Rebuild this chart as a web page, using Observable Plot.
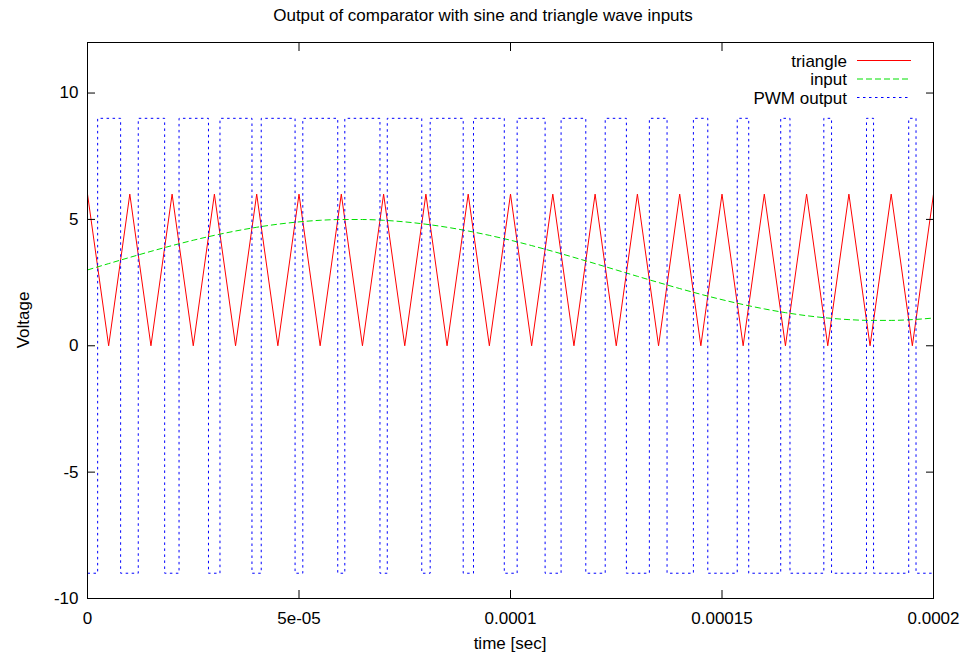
<!DOCTYPE html>
<html><head><meta charset="utf-8">
<script src="https://cdn.jsdelivr.net/npm/d3@7"></script>
<script src="https://cdn.jsdelivr.net/npm/@observablehq/plot@0.6"></script>
<style>html,body{margin:0;padding:0;background:#fff;} svg{display:block}</style>
</head><body><div id="chart"></div>
<script>
// ---- data ----
const titleText = "Output of comparator with sine and triangle wave inputs";
const xLabelText = "time [sec]";
const yLabelText = "Voltage";
const legendLabels = ["triangle", "input", "PWM output"];

const xTicks = [0, 5e-5, 1e-4, 1.5e-4, 2e-4];
const xTickLabels = ["0", "5e-05", "0.0001", "0.00015", "0.0002"];
const yTicks = [-10, -5, 0, 5, 10];
const yTickLabels = ["-10", "-5", "0", "5", "10"];

const triTime = [0e-6, 5e-6, 10e-6, 15e-6, 20e-6, 25e-6, 30e-6, 35e-6, 40e-6, 45e-6,
  50e-6, 55e-6, 60e-6, 65e-6, 70e-6, 75e-6, 80e-6, 85e-6, 90e-6, 95e-6,
  100e-6, 105e-6, 110e-6, 115e-6, 120e-6, 125e-6, 130e-6, 135e-6, 140e-6, 145e-6,
  150e-6, 155e-6, 160e-6, 165e-6, 170e-6, 175e-6, 180e-6, 185e-6, 190e-6, 195e-6, 200e-6];
const triVolt = [6, 0, 6, 0, 6, 0, 6, 0, 6, 0,
  6, 0, 6, 0, 6, 0, 6, 0, 6, 0,
  6, 0, 6, 0, 6, 0, 6, 0, 6, 0,
  6, 0, 6, 0, 6, 0, 6, 0, 6, 0, 6];

const inputTime = [0e-6, 5e-6, 10e-6, 15e-6, 20e-6, 25e-6, 30e-6, 35e-6, 40e-6, 45e-6,
  50e-6, 55e-6, 60e-6, 65e-6, 70e-6, 75e-6, 80e-6, 85e-6, 90e-6, 95e-6,
  100e-6, 105e-6, 110e-6, 115e-6, 120e-6, 125e-6, 130e-6, 135e-6, 140e-6, 145e-6,
  150e-6, 155e-6, 160e-6, 165e-6, 170e-6, 175e-6, 180e-6, 185e-6, 190e-6, 195e-6, 200e-6];
const inputVolt = [3.000, 3.251, 3.497, 3.736, 3.964, 4.176, 4.369, 4.541, 4.689, 4.810,
  4.902, 4.965, 4.996, 4.996, 4.965, 4.902, 4.810, 4.689, 4.541, 4.369,
  4.176, 3.964, 3.736, 3.497, 3.251, 3.000, 2.749, 2.503, 2.264, 2.036,
  1.824, 1.631, 1.459, 1.311, 1.190, 1.098, 1.035, 1.004, 1.004, 1.035, 1.098];

const pwmTime = [0, 2.40e-6, 7.83e-6, 12.00e-6, 18.24e-6, 21.64e-6, 28.60e-6, 31.32e-6, 38.88e-6, 41.07e-6,
  49.07e-6, 50.90e-6, 59.16e-6, 60.83e-6, 69.14e-6, 70.87e-6, 79.02e-6, 81.01e-6, 88.82e-6, 91.25e-6,
  98.53e-6, 101.57e-6, 108.18e-6, 111.96e-6, 117.80e-6, 122.39e-6, 127.40e-6, 132.83e-6, 137.01e-6, 143.24e-6,
  146.64e-6, 153.60e-6, 156.32e-6, 163.88e-6, 166.07e-6, 174.07e-6, 175.90e-6, 184.16e-6, 185.83e-6, 194.14e-6,
  195.87e-6, 200e-6];
const pwmVolt = [-9, 9, -9, 9, -9, 9, -9, 9, -9, 9,
  -9, 9, -9, 9, -9, 9, -9, 9, -9, 9,
  -9, 9, -9, 9, -9, 9, -9, 9, -9, 9,
  -9, 9, -9, 9, -9, 9, -9, 9, -9, 9,
  -9, -9];

// ---- layout / style ----
const W = 966, H = 655;
const mL = 87, mR = 33, mT = 42, mB = 57;
const FONT = "'Liberation Sans', Arial, Helvetica, sans-serif";
const FS = 17;
const RED = "#ff0000", GREEN = "#00e000", BLUE = "#0000ff";
const styles = [
  {stroke: RED, dash: null},
  {stroke: GREEN, dash: "6,3"},
  {stroke: BLUE, dash: "2.5,3.5"}
];
const TICK = 8;

const chart = Plot.plot({
  width: W, height: H,
  marginLeft: mL, marginRight: mR, marginTop: mT, marginBottom: mB,
  style: {fontFamily: FONT, fontSize: FS + "px", background: "white", color: "black"},
  x: {domain: [0, 2e-4]},
  y: {domain: [-10, 12]},
  marks: [
    Plot.line(triVolt, {x: triTime, y: triVolt, stroke: styles[0].stroke, strokeWidth: 1, strokeLinecap: "butt", strokeLinejoin: "miter"}),
    Plot.line(inputVolt, {x: inputTime, y: inputVolt, stroke: styles[1].stroke, strokeWidth: 1, strokeDasharray: styles[1].dash, strokeLinecap: "butt", curve: "monotone-x"}),
    Plot.line(pwmVolt, {x: pwmTime, y: pwmVolt, stroke: styles[2].stroke, strokeWidth: 1, strokeDasharray: styles[2].dash, strokeLinecap: "butt", curve: "step-after"}),
    Plot.frame({stroke: "black", strokeWidth: 1}),
    // inward ticks (all four sides)
    Plot.axisX(xTicks, {anchor: "bottom", tickSize: TICK, dy: -TICK, fill: "none", label: null, strokeWidth: 1}),
    Plot.axisX(xTicks, {anchor: "top", tickSize: TICK, dy: TICK, fill: "none", label: null, strokeWidth: 1}),
    Plot.axisY(yTicks, {anchor: "left", tickSize: TICK, dx: TICK, fill: "none", label: null, strokeWidth: 1}),
    Plot.axisY(yTicks, {anchor: "right", tickSize: TICK, dx: -TICK, fill: "none", label: null, strokeWidth: 1}),
    // tick labels
    Plot.axisX(xTicks, {anchor: "bottom", tickSize: 0, tickPadding: 13, label: null, fontSize: FS,
      tickFormat: d => xTickLabels[xTicks.indexOf(d)]}),
    Plot.axisY(yTicks, {anchor: "left", tickSize: 0, tickPadding: 9, label: null, fontSize: FS,
      tickFormat: d => yTickLabels[yTicks.indexOf(d)]})
  ]
});

document.getElementById("chart").appendChild(chart);

// title, axis labels, legend
const svg = d3.select(chart);
const g = svg.append("g").attr("font-family", FONT).attr("font-size", FS).attr("fill", "black");
g.append("text").attr("x", W / 2).attr("y", 20.5).attr("text-anchor", "middle").text(titleText);
g.append("text").attr("x", mL + (W - mL - mR) / 2).attr("y", 649).attr("text-anchor", "middle").text(xLabelText);
g.append("text").attr("transform", `translate(28.5,${mT + (H - mT - mB) / 2}) rotate(-90)`)
  .attr("text-anchor", "middle").text(yLabelText);

const legY = [60.5, 79, 97.5];
legendLabels.forEach((lab, i) => {
  g.append("text").attr("x", 847).attr("y", legY[i] + 6).attr("text-anchor", "end").text(lab);
  const ln = g.append("line").attr("x1", 857).attr("x2", 911).attr("y1", legY[i]).attr("y2", legY[i])
    .attr("stroke", styles[i].stroke).attr("stroke-width", 1);
  if (styles[i].dash) ln.attr("stroke-dasharray", styles[i].dash);
});
</script>
</body></html>
